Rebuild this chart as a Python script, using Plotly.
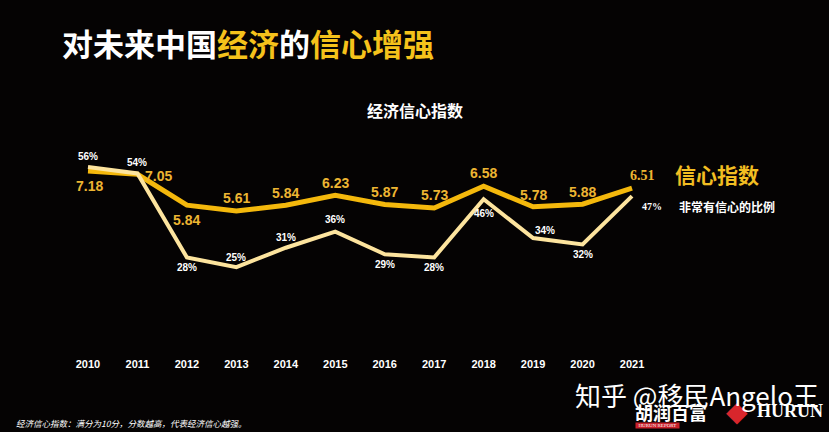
import plotly.graph_objects as go

years = [2010, 2011, 2012, 2013, 2014, 2015, 2016, 2017, 2018, 2019, 2020, 2021]
confidence_index = [7.18, 7.05, 5.84, 5.61, 5.84, 6.23, 5.87, 5.73, 6.58, 5.78, 5.88, 6.51]
very_confident_pct = [56, 54, 28, 25, 31, 36, 29, 28, 46, 34, 32, 47]

# label offsets (style)
idx_shift = [(2, -15), (21, -2), (0, -15), (0, 13), (0, 12), (0, 12), (0, 12), (0, 13), (0, 13), (0, 12), (0, 12), (10, 13)]
pct_shift = [(0, 11), (0, 11), (0, -10), (0, 10), (0, 10), (0, 12), (0, -10), (0, -10), (0, -14), (12, 8), (0, -10), (20, -10)]

GOLD = "#F4B80C"
CREAM = "#FDE49E"
GOLD_TXT = "#EDB532"

fig = go.Figure()
fig.add_trace(go.Scatter(x=years, y=very_confident_pct, mode="lines", yaxis="y2",
                         line=dict(color=CREAM, width=4), hoverinfo="skip"))
fig.add_trace(go.Scatter(x=years, y=confidence_index, mode="lines", yaxis="y",
                         line=dict(color=GOLD, width=5), hoverinfo="skip"))

ann = []
for i, (yr, v) in enumerate(zip(years, confidence_index)):
    fam = "Liberation Serif" if i == len(years) - 1 else "Liberation Sans"
    ann.append(dict(x=yr, y=v, xref="x", yref="y", text=f"<b>{v:.2f}</b>", showarrow=False,
                    xshift=idx_shift[i][0], yshift=idx_shift[i][1],
                    font=dict(family=fam, size=14, color=GOLD_TXT)))
for i, (yr, v) in enumerate(zip(years, very_confident_pct)):
    fam = "Liberation Serif" if i == len(years) - 1 else "Liberation Sans"
    ann.append(dict(x=yr, y=v, xref="x", yref="y2", text=f"<b>{v}%</b>", showarrow=False,
                    xshift=pct_shift[i][0], yshift=pct_shift[i][1],
                    font=dict(family=fam, size=10, color="#FFFFFF")))

cjk = "Noto Sans CJK SC"
ann += [
    dict(x=60, y=42, showarrow=False, xanchor="left",
         text="<b>对未来中国<span style='color:#F5C21B'>经济</span>的<span style='color:#F5C21B'>信心增强</span></b>",
         font=dict(family=cjk, size=31, color="#FFFFFF")),
    dict(x=415, y=110, showarrow=False, text="<b>经济信心指数</b>",
         font=dict(family=cjk, size=16, color="#FFFFFF")),
    dict(x=673, y=174, showarrow=False, xanchor="left", text="<b>信心指数</b>",
         font=dict(family=cjk, size=21, color="#F2BE22")),
    dict(x=677, y=206, showarrow=False, xanchor="left", text="<b>非常有信心的比例</b>",
         font=dict(family=cjk, size=12, color="#FFFFFF")),
    dict(x=14, y=423, showarrow=False, xanchor="left",
         text="<i>经济信心指数：满分为10分，分数越高，代表经济信心越强。</i>",
         font=dict(family=cjk, size=8.5, color="#FFFFFF")),
    dict(x=633, y=412, showarrow=False, xanchor="left", text="<b>胡润百富</b>",
         font=dict(family=cjk, size=18, color="#FFFFFF")),
    dict(x=635, y=425, showarrow=False, xanchor="left", text="  HURUN REPORT  ",
         font=dict(family="Liberation Serif", size=5, color="#FFFFFF"), bgcolor="#C8202A", borderpad=0),
    dict(x=724, y=411, showarrow=False, xanchor="left", text="◆",
         font=dict(family="DejaVu Sans", size=28, color="#D8262C")),
    dict(x=755, y=411, showarrow=False, xanchor="left", text="<b>HURUN</b>",
         font=dict(family="Liberation Serif", size=18, color="#FFFFFF")),
    dict(x=573, y=394, showarrow=False, xanchor="left", text="知乎 @移民Angelo王",
         font=dict(family=cjk, size=26, color="#FFFFFF")),
]
W, H = 829, 432
L, R, T, B = 60, 169, 140, 80
for a in ann:
    if a.get("xref") != "x":
        px, py = a["x"], a["y"]
        a["xref"] = "paper"; a["yref"] = "paper"
        a["x"] = (px - L) / (W - L - R)
        a["y"] = (H - B - py) / (H - T - B)
        a.setdefault("yanchor", "middle")

fig.update_layout(
    width=W, height=H, margin=dict(l=L, r=R, t=T, b=B),
    paper_bgcolor="#050303", plot_bgcolor="#050303", showlegend=False,
    xaxis=dict(range=[2009.434, 2021.566], tickmode="array", tickvals=years,
               ticktext=[f"<b>{y}</b>" for y in years], showgrid=False, zeroline=False,
               showline=False, ticks="", tickfont=dict(family="Liberation Sans", size=11, color="#FFFFFF"),
               ticklabelstandoff=4),
    yaxis=dict(range=[0.082, 8.396], visible=False),
    yaxis2=dict(range=[-1.28, 64.36], overlaying="y", visible=False),
    annotations=ann,
)
fig.write_html("out.html", config={"displayModeBar": False},
               post_script="document.body.style.margin='0';document.body.style.background='#050303';")
